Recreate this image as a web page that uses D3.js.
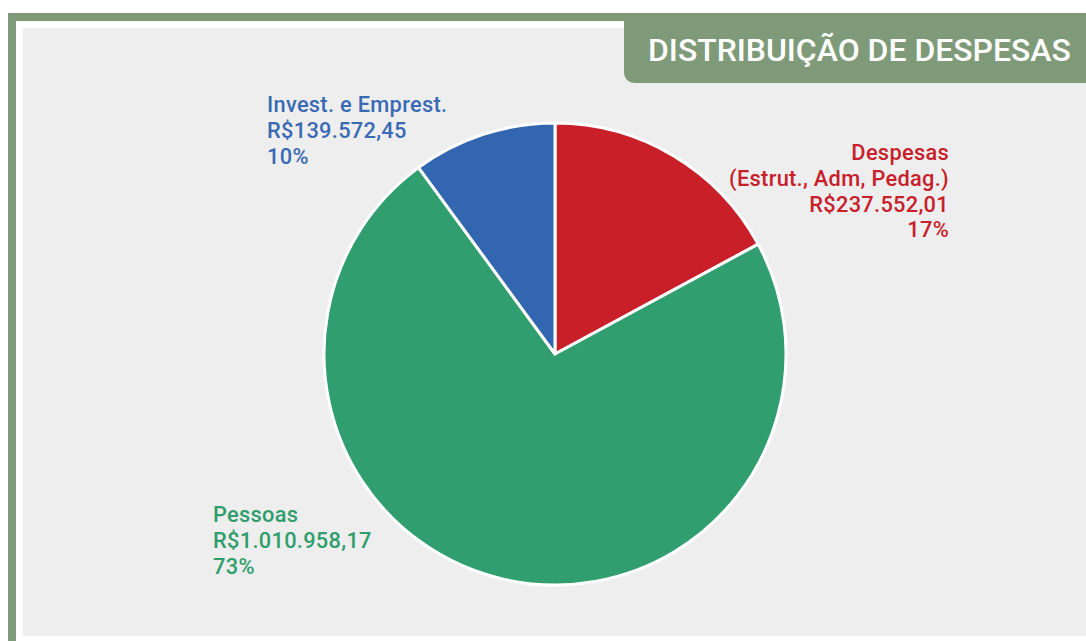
<!DOCTYPE html>
<html><head><meta charset="utf-8">
<script src="https://cdn.jsdelivr.net/npm/d3@7"></script>
<style>html,body{margin:0;padding:0;background:#fff;}svg{display:block;}</style>
</head><body>
<script>
const categories = ["Despesas (Estrut., Adm, Pedag.)", "Pessoas", "Invest. e Emprest."];
const values = [237552.01, 1010958.17, 139572.45];
const valueLabels = ["R$237.552,01", "R$1.010.958,17", "R$139.572,45"];
const percentLabels = ["17%", "73%", "10%"];
const labelLines = [["Despesas", "(Estrut., Adm, Pedag.)"], ["Pessoas"], ["Invest. e Emprest."]];
const sliceColors = ["#c81f29", "#319e6f", "#3366b0"];
const textColors = ["#c8202b", "#2f9e6c", "#3a6ab4"];
const title = "DISTRIBUIÇÃO DE DESPESAS";

const W = 1086, H = 641;
const svg = d3.select("body").append("svg").attr("width", W).attr("height", H);
const frame = "#7f9a78";
svg.append("rect").attr("x",0).attr("y",0).attr("width",W).attr("height",H).attr("fill","#fff");
svg.append("rect").attr("x",8).attr("y",13).attr("width",W-8).attr("height",H-13).attr("fill",frame);
svg.append("rect").attr("x",16).attr("y",21).attr("width",W-16).attr("height",H-21).attr("fill","#fff");
svg.append("rect").attr("x",23).attr("y",28).attr("width",W-23).attr("height",636-28).attr("fill","#eeeeee");

// title box with rounded bottom-left corner
const tx = 624, ty = 13, tb = 83, r = 12;
svg.append("path").attr("d", `M${tx},${ty} H${W} V${tb} H${tx+r} Q${tx},${tb} ${tx},${tb-r} Z`).attr("fill", frame);
const titleText = svg.append("text").attr("x", 648).attr("y", 61).text(title)
  .attr("fill","#fff").attr("font-family","Roboto, sans-serif").attr("font-weight",500)
  .attr("font-size",32);
const natural = titleText.node().getComputedTextLength();
titleText.attr("font-size", 32 * 423 / natural);

const cx = 555, cy = 354, R = 231;
const pie = d3.pie().sort(null).value(d => d)(values);
const arc = d3.arc().innerRadius(0).outerRadius(R);
const g = svg.append("g").attr("transform", `translate(${cx},${cy})`);
g.selectAll("path").data(pie).join("path").attr("d", arc)
  .attr("fill", (d,i) => sliceColors[i]).attr("stroke","#fff").attr("stroke-width",3).attr("stroke-linejoin","round");

const labelPos = [
  {x: 949, y: 160, anchor: "end"},
  {x: 213, y: 522, anchor: "start"},
  {x: 267, y: 112, anchor: "start"}
];
const lh = 25.8;
categories.forEach((c, i) => {
  const lines = labelLines[i].concat([valueLabels[i], percentLabels[i]]);
  lines.forEach((l, k) => {
    svg.append("text").attr("x", labelPos[i].x).attr("y", labelPos[i].y + k*lh)
      .attr("text-anchor", labelPos[i].anchor).attr("fill", textColors[i])
      .attr("font-family","Roboto, sans-serif").attr("font-weight",500).attr("font-size",21.8)
      .attr("letter-spacing", 0.3).text(l);
  });
});
</script>
</body></html>
